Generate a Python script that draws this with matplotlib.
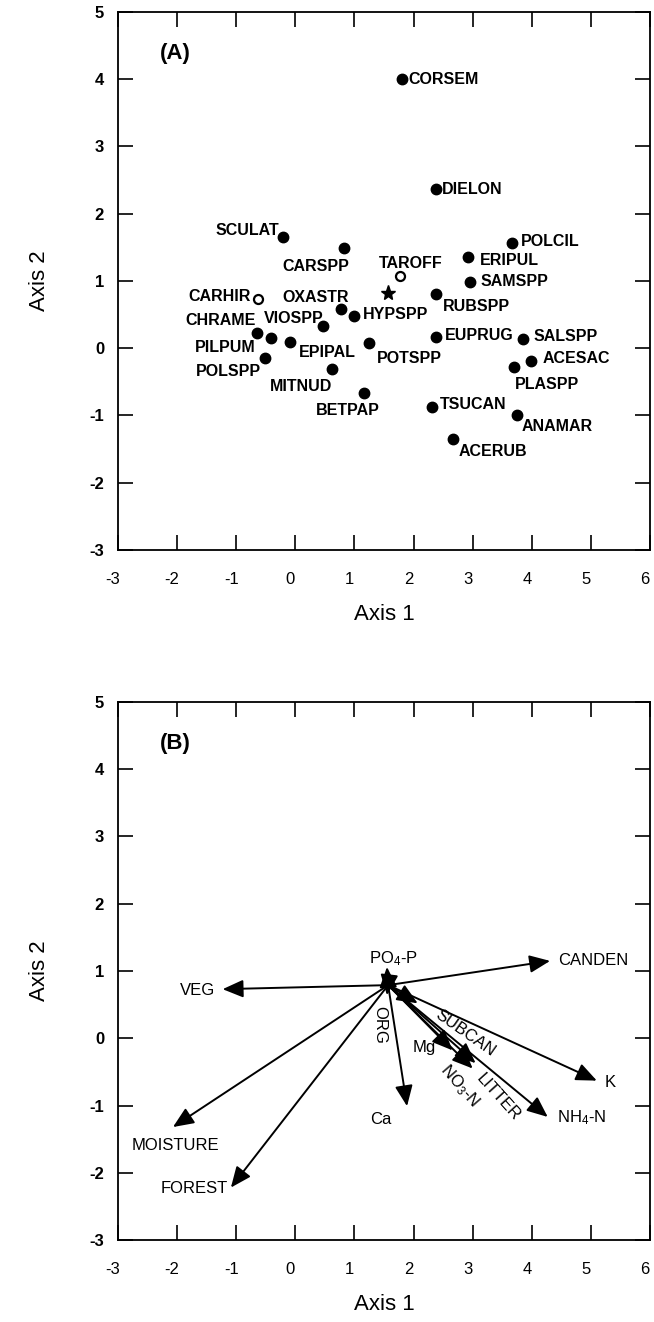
import matplotlib
matplotlib.use("Agg")
import matplotlib.pyplot as plt
import matplotlib.transforms as mtransforms

plt.rcParams['font.family'] = ['Liberation Sans', 'DejaVu Sans']
plt.rcParams['mathtext.fontset'] = 'custom'
plt.rcParams['mathtext.rm'] = 'Liberation Sans'
plt.rcParams['mathtext.it'] = 'Liberation Sans:italic'
plt.rcParams['axes.unicode_minus'] = False

# ---- panel A: species scores ----
sp_names = ['CORSEM', 'DIELON', 'SCULAT', 'CARSPP', 'POLCIL', 'ERIPUL', 'SAMSPP',
            'RUBSPP', 'OXASTR', 'HYPSPP', 'VIOSPP', 'CHRAME', 'PILPUM', 'EPIPAL',
            'POTSPP', 'EUPRUG', 'SALSPP', 'POLSPP', 'ACESAC', 'PLASPP', 'MITNUD',
            'BETPAP', 'TSUCAN', 'ANAMAR', 'ACERUB']
sp_x = [1.81, 2.38, -0.21, 0.82, 3.67, 2.92, 2.96, 2.38, 0.77, 1.00, 0.46, -0.64,
        -0.41, -0.09, 1.24, 2.38, 3.85, -0.52, 3.99, 3.70, 0.62, 1.17, 2.32, 3.75, 2.67]
sp_y = [4.00, 2.36, 1.65, 1.49, 1.57, 1.35, 0.99, 0.80, 0.59, 0.475, 0.33, 0.23,
        0.15, 0.09, 0.07, 0.17, 0.14, -0.15, -0.19, -0.28, -0.31, -0.67, -0.87, -0.99, -1.35]

open_names = ['TAROFF', 'CARHIR']
open_x = [1.77, -0.63]
open_y = [1.07, 0.73]

star_x = [1.56]
star_y = [0.82]

# ---- panel B: environmental vectors ----
vec_origin = (1.57, 0.79)
vec_names = ['CANDEN', 'VEG', 'PO$_4$-P', 'ORG', 'Ca', 'K', 'NH$_4$-N', 'SUBCAN',
             'LITTER', 'NO$_3$-N', 'Mg', 'MOISTURE', 'FOREST']
vec_x = [4.31, -1.23, 1.55, 1.55, 1.89, 5.10, 4.27, 2.07, 3.05, 3.00, 2.66, -2.07, -1.09]
vec_y = [1.15, 0.73, 1.06, 0.64, -1.01, -0.63, -1.17, 0.52, -0.37, -0.45, -0.18, -1.32, -2.22]

xticks = list(range(-3, 7))
yticks = list(range(-3, 6))

# label placement (offset pixels, alignment, rotation)
sp_lab = {
    'CORSEM': ('left', 6, 0), 'DIELON': ('left', 6, 0), 'SCULAT': ('right', -4, 7),
    'CARSPP': ('center', -28, -19), 'POLCIL': ('left', 9, 1), 'ERIPUL': ('left', 12, -3),
    'SAMSPP': ('left', 10, 0), 'RUBSPP': ('left', 7, -12), 'OXASTR': ('center', -25, 11),
    'HYPSPP': ('left', 8, 2), 'VIOSPP': ('center', -29, 7), 'CHRAME': ('right', -2, 12),
    'PILPUM': ('right', -15, -9), 'EPIPAL': ('left', 9, -10), 'POTSPP': ('left', 8, -15),
    'EUPRUG': ('left', 9, 1), 'SALSPP': ('left', 11, 2), 'POLSPP': ('right', -4, -13),
    'ACESAC': ('left', 11, 2), 'PLASPP': ('left', 1, -17), 'MITNUD': ('center', -31, -17),
    'BETPAP': ('center', -17, -17), 'TSUCAN': ('left', 7, 2), 'ANAMAR': ('left', 5, -12),
    'ACERUB': ('left', 5, -13), 'TAROFF': ('center', 11, 13), 'CARHIR': ('right', -7, 3),
}
vec_lab = {
    'CANDEN': ('left', 8, 0, 0), 'VEG': ('right', -7, -1, 0), 'PO$_4$-P': ('center', 6, 8, 0),
    'ORG': ('center', -7, -30, -90), 'Ca': ('center', -26, -13, 0), 'K': ('left', 8, -2, 0),
    'NH$_4$-N': ('left', 9, -1, 0), 'SUBCAN': ('center', 48, -30, -35),
    'LITTER': ('center', 22, -34, -48), 'NO$_3$-N': ('center', -13, -17, -49),
    'Mg': ('center', -28, 3, 0), 'MOISTURE': ('center', 2, -18, 0), 'FOREST': ('right', -3, -1, 0),
}


def style_axes(ax, letter):
    ax.set_xlim(-3, 6)
    ax.set_ylim(-3, 5)
    ax.set_xticks(xticks)
    ax.set_yticks(yticks)
    for s in ax.spines.values():
        s.set_linewidth(1.3)
    ax.tick_params(direction='in', length=11, width=1.2, top=True, right=True,
                   labeltop=False, labelright=False)
    ax.tick_params(axis='x', pad=16, labelsize=12)
    ax.tick_params(axis='y', pad=10, labelsize=12)
    for t in ax.get_yticklabels():
        t.set_fontweight('bold')
    # tick labels sit a little left of their ticks in the original
    shift = mtransforms.ScaledTranslation(-5 / 100, 0, fig.dpi_scale_trans)
    for t in ax.get_xticklabels():
        t.set_transform(t.get_transform() + shift)
    ax.set_xlabel('Axis 1', fontsize=16, labelpad=12)
    ax.set_ylabel('Axis 2', fontsize=16, labelpad=28)
    ax.text(0.079, 0.922, letter, transform=ax.transAxes, fontsize=16,
            fontweight='bold', ha='left', va='center')


fig = plt.figure(figsize=(6.54, 13.22), dpi=100)
axA = fig.add_axes([0.1804, 0.5840, 0.8135, 0.4070])
axB = fig.add_axes([0.1804, 0.0620, 0.8135, 0.4070])

# panel A
axA.plot(sp_x, sp_y, 'o', color='black', markersize=7.5, linestyle='none')
axA.plot(open_x, open_y, 'o', markerfacecolor='white', markeredgecolor='black',
         markeredgewidth=1.6, markersize=6.5, linestyle='none')
axA.plot(star_x, star_y, '*', color='black', markersize=11, linestyle='none')
for names, xs, ys in [(sp_names, sp_x, sp_y), (open_names, open_x, open_y)]:
    for n, x, y in zip(names, xs, ys):
        ha, dx, dy = sp_lab[n]
        axA.annotate(n, (x, y), xytext=(dx, dy), textcoords='offset pixels',
                     ha=ha, va='center', fontsize=11.5, fontweight='bold')
style_axes(axA, '(A)')

# panel B
for n, x, y in zip(vec_names, vec_x, vec_y):
    axB.annotate('', xy=(x, y), xytext=vec_origin,
                 arrowprops=dict(arrowstyle='-|>,head_length=0.7,head_width=0.3',
                                 color='black', lw=1.4, mutation_scale=18,
                                 shrinkA=0, shrinkB=0))
    ha, dx, dy, rot = vec_lab[n]
    axB.annotate(n, (x, y), xytext=(dx, dy), textcoords='offset pixels',
                 ha=ha, va='center', fontsize=12, rotation=rot,
                 rotation_mode='anchor')
style_axes(axB, '(B)')

fig.savefig('out.png', dpi=100)
